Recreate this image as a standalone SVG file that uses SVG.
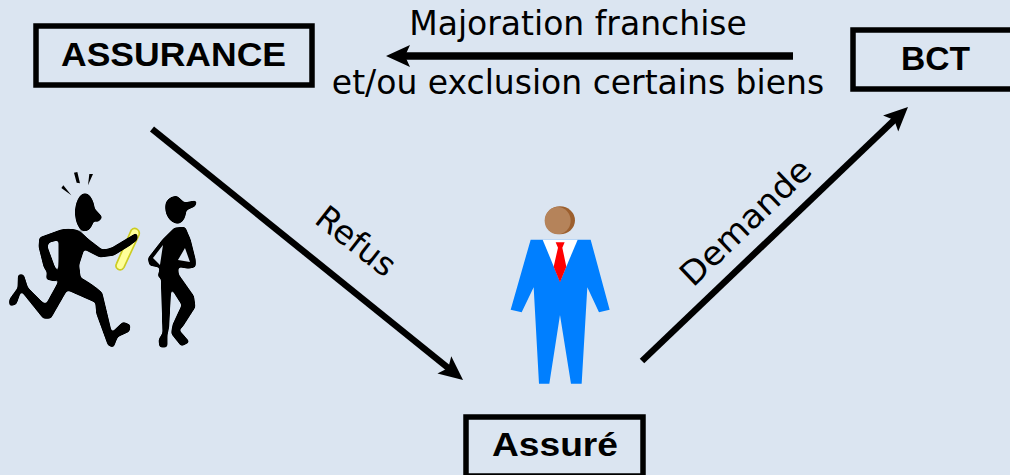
<svg xmlns="http://www.w3.org/2000/svg" width="1010" height="475" viewBox="0 0 1010 475">
<style>
.box{fill:none;stroke:#000;stroke-width:5.5}
.lbl{font-family:"Liberation Sans",Arial,sans-serif;font-weight:bold;font-size:34px;fill:#000;text-anchor:middle}
.txt{font-family:"DejaVu Sans",Verdana,sans-serif;font-size:33px;fill:#000;text-anchor:middle}
.rot{font-family:"DejaVu Sans",Verdana,sans-serif;font-size:33px;fill:#000}
.conn{stroke:#000;fill:none;marker-end:url(#ah)}
.sil{fill:#000;stroke:#000;stroke-width:9;stroke-linejoin:round}
</style>
<defs>
<marker id="ah" markerUnits="userSpaceOnUse" viewBox="0 0 24 24" refX="7" refY="12" markerWidth="24" markerHeight="24" orient="auto">
<path d="M0 1L24 12L0 23L5 12Z" fill="#000"/>
</marker>
<filter id="soft" x="-5%" y="-5%" width="110%" height="110%">
<feGaussianBlur stdDeviation="5"/>
<feComponentTransfer><feFuncA type="linear" slope="5" intercept="-2"/></feComponentTransfer>
</filter>
</defs>
<rect width="1010" height="475" fill="#dbe5f1"/>
<g id="connectors">
<path class="conn" stroke-width="7.500" d="M793 56H403"/>
<path class="conn" stroke-width="6.500" d="M152 129L449.800 369.300"/>
<path class="conn" stroke-width="6.500" d="M642 361L895.700 118.700"/>
</g>
<g id="assurance"><rect class="box" x="36" y="26" width="276" height="59"/><text class="lbl" x="173.500" y="66" textLength="225" lengthAdjust="spacingAndGlyphs">ASSURANCE</text></g>
<g id="bct"><rect class="box" x="853" y="30" width="170" height="59"/><text class="lbl" x="935.500" y="70" textLength="69" lengthAdjust="spacingAndGlyphs">BCT</text></g>
<g id="assure"><rect class="box" x="466" y="417" width="177" height="59"/><text class="lbl" x="555" y="456" textLength="126" lengthAdjust="spacingAndGlyphs">Assuré</text></g>
<g id="label-top"><text class="txt" x="578" y="35">Majoration franchise</text><text class="txt" x="578" y="94">et/ou exclusion certains biens</text></g>
<g id="label-refus"><text class="rot" transform="translate(313 222) rotate(38)">Refus</text></g>
<g id="label-demande"><text class="rot" transform="translate(693 288) rotate(-43.700)" textLength="167" lengthAdjust="spacingAndGlyphs">Demande</text></g>
<g id="runners" transform="translate(0 160) scale(.3333)">
<path fill="#ffff99" stroke="#cccc22" stroke-width="5" d="M394 210C404 200 422 208 417 225L372 322C362 338 342 326 350 310Z"/>
<path fill="#000" d="M230 68L222 38L232 36L240 70ZM264 76L268 42L279 42ZM214 106L184 84L190 76Z"/>
<g filter="url(#soft)">
<ellipse cx="255" cy="157" rx="30" ry="57" fill="#000"/>
<path class="sil" d="M282 150L302 172L292 182L278 175Z"/>
<path class="sil" d="M180 214Q205 208 230 214Q250 225 262 240L305 273Q325 272 340 265L385 238L408 224L408 238L385 255L340 283L300 288L250 262L233 315L238 355Q275 375 303 400L333 525L370 490L387 497L385 512L350 528L338 558L327 553L293 460L290 425L200 385L150 472L132 472L62 385L46 430L32 434L32 420L57 385L58 347L68 347L80 385L125 430L140 437L178 368L180 300L180 235L143 245L138 260L160 320L172 345L165 360L143 355L145 335L135 320L120 260L122 235Z"/>
<path class="sil" d="M500 140C500 122 515 112 530 112L552 132L586 126L582 136L555 148C553 175 545 187 530 187C512 182 500 165 500 140Z"/>
<path class="sil" d="M525 207L553 205L568 240L583 300L583 318L565 322L530 316L532 345L578 410L582 440L545 498L532 510L563 545L545 554L518 520L522 495L550 435L510 372L503 500L498 525L498 558L482 558L480 540L492 520L487 353L478 348L485 320L452 313L448 296L490 242Z"/>
</g>
<path fill="#dbe5f1" d="M489 255L459 294L480 315ZM555 264L570 306L534 300Z"/>
</g>
<g id="person" transform="translate(490 195) scale(.3333)">
<path fill="#007fff" d="M122 134H302L359 344L327 352L292 277L275 566H243L210 360L178 566H147L131 277L95 352L62 344Z"/>
<path fill="#fff" d="M158 134H263L210 260Z"/>
<path fill="#ff0000" d="M197 142H224L217 158L229 215L210 262L191 215L204 158Z"/>
<ellipse cx="210" cy="76" rx="45" ry="42" fill="#9c5f2e"/>
<ellipse cx="203" cy="77" rx="39" ry="41" fill="#b5835a"/>
</g>
</svg>
